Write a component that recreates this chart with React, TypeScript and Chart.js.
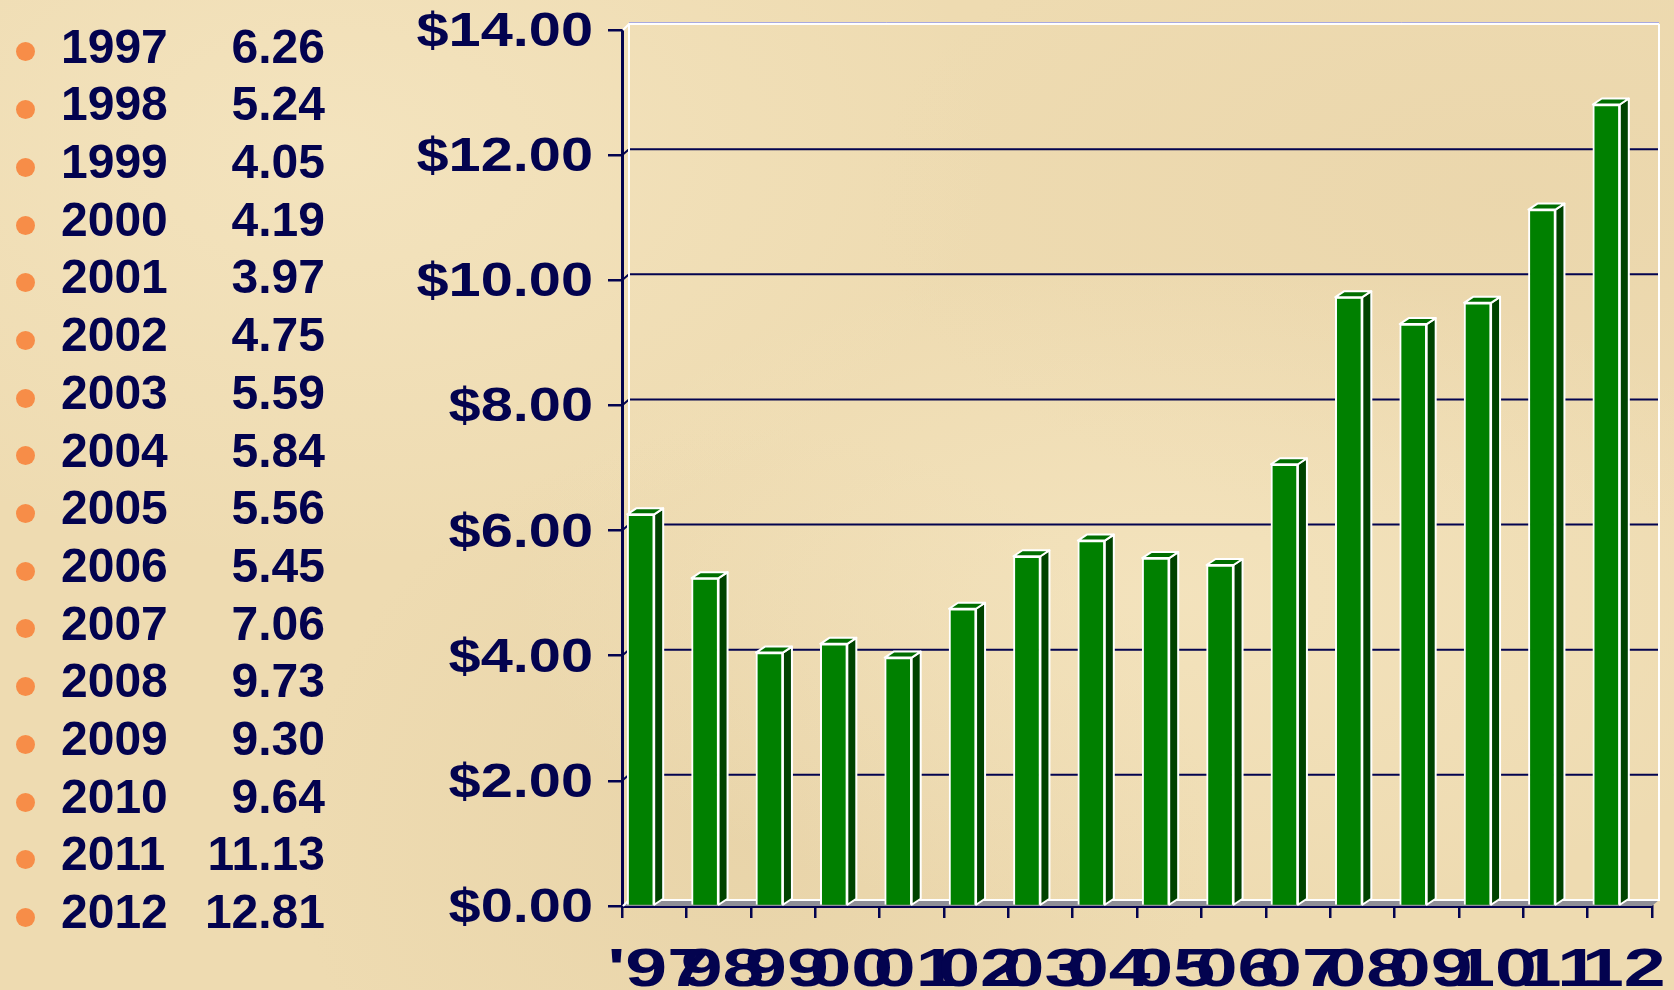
import React, { useEffect, useRef } from "react";
import { Chart, registerables } from "chart.js";

Chart.register(...registerables);

// ---------- data ----------
const years = ["1997", "1998", "1999", "2000", "2001", "2002", "2003", "2004", "2005", "2006", "2007", "2008", "2009", "2010", "2011", "2012"];
const axisLabels = ["'97", "98", "99", "00", "01", "02", "03", "04", "05", "06", "07", "08", "09", "10", "11", "12"];
const prices = [6.26, 5.24, 4.05, 4.19, 3.97, 4.75, 5.59, 5.84, 5.56, 5.45, 7.06, 9.73, 9.3, 9.64, 11.13, 12.81];
const priceLabels = ["6.26", "5.24", "4.05", "4.19", "3.97", "4.75", "5.59", "5.84", "5.56", "5.45", "7.06", "9.73", "9.30", "9.64", "11.13", "12.81"];
const yMin = 0;
const yMax = 14;
const yStep = 2;

// ---------- style ----------
const NAVY = "#03034F";
const DX = 7;
const DY = 6;
const BAR_DX = 9;
const BAR_DY = 6;
const W = 1674;
const H = 990;
const AXIS_FONT = '"Liberation Sans", Arial, sans-serif';

function poly(ctx: CanvasRenderingContext2D, pts: number[][], fill: string) {
  ctx.beginPath();
  ctx.moveTo(pts[0][0], pts[0][1]);
  for (let i = 1; i < pts.length; i++) ctx.lineTo(pts[i][0], pts[i][1]);
  ctx.closePath();
  ctx.fillStyle = fill;
  ctx.fill();
  ctx.stroke();
}

const threeD = {
  id: "threeD",
  beforeDatasetsDraw(chart: any) {
    const { ctx, chartArea: a, scales } = chart;
    const ys = scales.y;
    const L = a.left, R = a.right, T = a.top, B = a.bottom;
    ctx.save();
    // floor
    ctx.beginPath();
    ctx.moveTo(L, B);
    ctx.lineTo(R, B);
    ctx.lineTo(R + DX, B - DY);
    ctx.lineTo(L + DX, B - DY);
    ctx.closePath();
    ctx.fillStyle = "#8F8F97";
    ctx.fill();
    // gridlines on back wall
    ctx.strokeStyle = NAVY;
    ctx.lineWidth = 2;
    ys.ticks.forEach((t: any) => {
      if (t.value <= ys.min || t.value >= ys.max) return;
      const py = ys.getPixelForValue(t.value);
      ctx.beginPath();
      ctx.moveTo(L, py);
      ctx.lineTo(L + DX, py - DY);
      ctx.lineTo(R + DX, py - DY);
      ctx.stroke();
    });
    // wall edges
    ctx.strokeStyle = "#FFFFFF";
    ctx.lineWidth = 2;
    ctx.beginPath();
    ctx.moveTo(L + 1, T);
    ctx.lineTo(L + DX, T - DY);
    ctx.lineTo(R + DX, T - DY);
    ctx.moveTo(L + DX, T - DY);
    ctx.lineTo(L + DX, B - DY);
    ctx.lineTo(R + DX, B - DY);
    ctx.lineTo(R + DX, T - DY);
    ctx.moveTo(L + 1, B);
    ctx.lineTo(L + DX, B - DY);
    ctx.stroke();
    ctx.strokeStyle = "#A9A9DE";
    ctx.lineWidth = 1;
    ctx.beginPath();
    ctx.moveTo(L + DX, T - DY - 1.5);
    ctx.lineTo(R + DX, T - DY - 1.5);
    ctx.stroke();
    ctx.restore();
  },
  afterDatasetsDraw(chart: any) {
    const { ctx } = chart;
    const meta = chart.getDatasetMeta(0);
    ctx.save();
    ctx.strokeStyle = "#FFFFFF";
    ctx.lineWidth = 2;
    ctx.lineJoin = "round";
    meta.data.forEach((bar: any) => {
      const { x, y, base, width } = bar.getProps(["x", "y", "base", "width"], true);
      const l = x - width / 2;
      const r = x + width / 2;
      poly(ctx, [[r, y], [r + BAR_DX, y - BAR_DY], [r + BAR_DX, base - BAR_DY], [r, base]], "#004300");
      poly(ctx, [[l, y], [l + BAR_DX, y - BAR_DY], [r + BAR_DX, y - BAR_DY], [r, y]], "#006E00");
    });
    ctx.restore();
  },
  afterDraw(chart: any) {
    const { ctx } = chart;
    const xs = chart.scales.x;
    const ys = chart.scales.y;
    ctx.save();
    ctx.fillStyle = NAVY;
    ctx.textBaseline = "alphabetic";
    // x labels (wide, stretched lettering)
    ctx.font = "bold 53px " + AXIS_FONT;
    ctx.textAlign = "center";
    xs.ticks.forEach((t: any, i: number) => {
      const px = xs.getPixelForTick(i) + 4;
      ctx.save();
      ctx.translate(px, xs.top + 80);
      ctx.scale(1.42, 1);
      ctx.fillText(xs.getLabelForValue(t.value), 0, 0);
      ctx.restore();
    });
    // y labels
    ctx.font = "bold 47.5px " + AXIS_FONT;
    ctx.textAlign = "right";
    ys.ticks.forEach((t: any) => {
      const py = ys.getPixelForValue(t.value);
      ctx.save();
      ctx.translate(ys.right - 29, py + 16);
      ctx.scale(1.215, 1);
      ctx.fillText("$" + Number(t.value).toFixed(2), 0, 0);
      ctx.restore();
    });
    ctx.restore();
  },
};

const spacer = new Array(years.length).fill(null);

function PriceChart() {
  const ref = useRef<HTMLCanvasElement | null>(null);
  useEffect(() => {
    if (!ref.current) return;
    const chart = new Chart(ref.current, {
      type: "bar",
      data: {
        labels: axisLabels,
        datasets: [
          {
            label: "Price",
            data: prices,
            backgroundColor: "#008000",
            borderColor: "#FFFFFF",
            borderWidth: 2,
            barThickness: 27,
          } as any,
          {
            label: "depth",
            data: spacer,
            backgroundColor: "rgba(0,0,0,0)",
            barThickness: 27,
          } as any,
        ],
      },
      options: {
        responsive: false,
        animation: false,
        devicePixelRatio: 1,
        layout: { padding: { top: 30, right: 22, left: 0, bottom: 0 } },
        plugins: { legend: { display: false }, tooltip: { enabled: false }, title: { display: false } },
        scales: {
          x: {
            type: "category",
            offset: true,
            grid: { offset: true, drawOnChartArea: false, drawTicks: true, tickLength: 12, color: NAVY, lineWidth: 2.5 },
            border: { display: true, color: NAVY, width: 3 },
            ticks: { display: false, autoSkip: false, maxRotation: 0, minRotation: 0 },
            afterFit: (s: any) => {
              s.height = 84;
            },
          },
          y: {
            min: yMin,
            max: yMax,
            grid: { drawOnChartArea: false, drawTicks: true, tickLength: 14, color: NAVY, lineWidth: 2.5 },
            border: { display: true, color: NAVY, width: 3 },
            ticks: {
              display: false,
              stepSize: yStep,
              callback: (v: any) => "$" + Number(v).toFixed(2),
            },
            afterFit: (s: any) => {
              s.width = 622;
            },
          },
        },
      } as any,
      plugins: [threeD],
    });
    return () => chart.destroy();
  }, []);
  return <canvas ref={ref} width={W} height={H} style={{ position: "absolute", left: 0, top: 0, display: "block" }} />;
}

export default function App() {
  const rowH = 57.7;
  const firstCenter = 46;
  return (
    <div
      style={{
        position: "absolute",
        left: 0,
        top: 0,
        width: W,
        height: H,
        overflow: "hidden",
        backgroundColor: "#EEDBB1",
        backgroundImage:
          "radial-gradient(ellipse at 20% 15%, rgba(248,234,200,0.55), rgba(248,234,200,0) 35%)," +
          "radial-gradient(ellipse at 70% 60%, rgba(248,234,200,0.5), rgba(248,234,200,0) 40%)," +
          "radial-gradient(ellipse at 45% 85%, rgba(226,204,160,0.45), rgba(226,204,160,0) 35%)," +
          "radial-gradient(ellipse at 90% 20%, rgba(230,208,165,0.4), rgba(230,208,165,0) 30%)",
      }}
    >
      <PriceChart />
      <div style={{ position: "absolute", left: 0, top: 0, width: 340, height: H }}>
        {years.map((yr, i) => {
          const c = firstCenter + i * rowH;
          return (
            <div
              key={yr}
              style={{
                position: "absolute",
                left: 0,
                width: 340,
                top: c - rowH / 2 + 0.5,
                height: rowH,
                lineHeight: rowH + "px",
                fontFamily: '"Liberation Sans", Arial, sans-serif',
                fontWeight: "bold",
                fontSize: 48,
                color: NAVY,
              }}
            >
              <span
                style={{
                  position: "absolute",
                  left: 15.5,
                  top: rowH / 2 + 5.5 - 9.5,
                  width: 19,
                  height: 19,
                  borderRadius: "50%",
                  background: "#F78D48",
                }}
              />
              <span style={{ position: "absolute", left: 61 }}>{yr}</span>
              <span style={{ position: "absolute", right: 15, textAlign: "right" }}>{priceLabels[i]}</span>
            </div>
          );
        })}
      </div>
    </div>
  );
}
